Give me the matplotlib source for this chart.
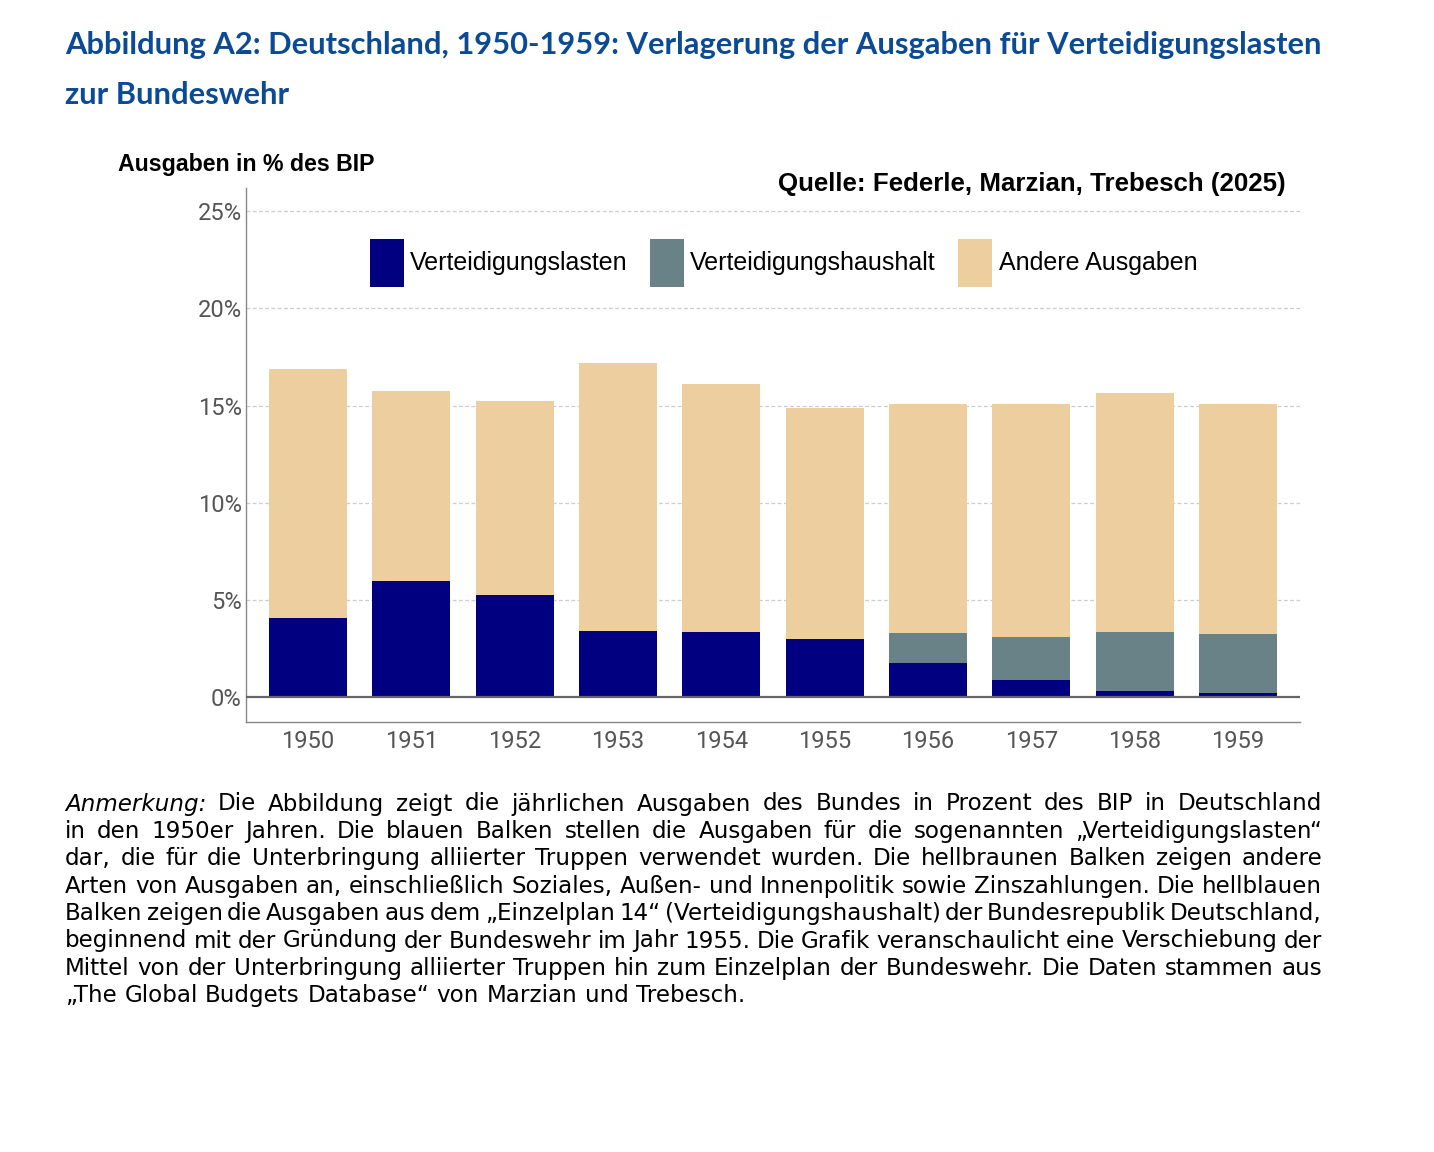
import numpy as np
import matplotlib
matplotlib.use("Agg")
import matplotlib.pyplot as plt

# data (percent of GDP)
years = ['1950', '1951', '1952', '1953', '1954', '1955', '1956', '1957', '1958', '1959']
lasten = [4.08, 5.99, 5.23, 3.41, 3.36, 3.00, 1.77, 0.90, 0.33, 0.23]
haushalt = [0, 0, 0, 0, 0, 0, 1.51, 2.21, 3.04, 3.04]
andere = [12.78, 9.78, 10.03, 13.81, 12.77, 11.90, 11.82, 11.99, 12.30, 11.83]

col_lasten = '#000080'
col_haushalt = '#698287'
col_andere = '#EDCF9F'
title_col = '#0B4A94'

title_lines = ['Abbildung A2: Deutschland, 1950-1959: Verlagerung der Ausgaben für Verteidigungslasten',
               'zur Bundeswehr']
note_lines = [
    'Anmerkung: Die Abbildung zeigt die jährlichen Ausgaben des Bundes in Prozent des BIP in Deutschland',
    'in den 1950er Jahren.  Die blauen Balken stellen die Ausgaben für die sogenannten „Verteidigungslasten“',
    'dar, die für die Unterbringung alliierter Truppen verwendet wurden.  Die hellbraunen Balken zeigen andere',
    'Arten von Ausgaben an, einschließlich Soziales, Außen- und Innenpolitik sowie Zinszahlungen. Die hellblauen',
    'Balken zeigen die Ausgaben aus dem „Einzelplan 14“ (Verteidigungshaushalt) der Bundesrepublik Deutschland,',
    'beginnend mit der Gründung der Bundeswehr im Jahr 1955. Die Grafik veranschaulicht eine Verschiebung der',
    'Mittel von der Unterbringung alliierter Truppen hin zum Einzelplan der Bundeswehr. Die Daten stammen aus',
    '„The Global Budgets Database“ von Marzian und Trebesch.',
]

W, H = 1434, 1152
fig = plt.figure(figsize=(W / 100, H / 100), dpi=100)
ax = fig.add_axes([246 / W, 1 - 722 / H, (1300 - 246) / W, (722 - 188) / H])

x = np.arange(len(years))
bw = 0.755
lasten = np.array(lasten)
haushalt = np.array(haushalt)
andere = np.array(andere)
ax.bar(x, lasten, bw, color=col_lasten, label='Verteidigungslasten', zorder=3)
ax.bar(x, haushalt, bw, bottom=lasten, color=col_haushalt, label='Verteidigungshaushalt', zorder=3)
ax.bar(x, andere, bw, bottom=lasten + haushalt, color=col_andere, label='Andere Ausgaben', zorder=3)

ax.set_xlim(-0.6, len(years) - 0.4)
ax.set_ylim(-1.28, 26.2)
ax.set_yticks([0, 5, 10, 15, 20, 25])
ax.set_yticklabels(['0%', '5%', '10%', '15%', '20%', '25%'])
ax.set_xticks(x)
ax.set_xticklabels(years)
ax.tick_params(axis='both', length=0, labelsize=17, labelcolor='#555555')
ax.tick_params(axis='y', pad=3)
ax.tick_params(axis='x', pad=6)
for lab in ax.get_xticklabels() + ax.get_yticklabels():
    lab.set_family('Roboto')

for v in [5, 10, 15, 20, 25]:
    ax.axhline(v, color='#cccccc', lw=0.9, ls=(0, (3, 2)), zorder=1)
ax.axhline(0, color='#666666', lw=1.6, zorder=4)

for s in ['top', 'right']:
    ax.spines[s].set_visible(False)
for s in ['left', 'bottom']:
    ax.spines[s].set_color('#888888')
    ax.spines[s].set_linewidth(1.0)

ax.legend(loc='center', bbox_to_anchor=(0.51, 0.86), ncol=3, frameon=False,
          prop={'family': 'Liberation Sans', 'size': 18},
          handlelength=1.36, handleheight=2.56, handletextpad=0.25, columnspacing=0.9)

fig.text(118 / W, 1 - 165 / H, 'Ausgaben in % des BIP', family='Liberation Sans',
         weight='bold', size=16.7, va='center', ha='left')
fig.text(1286 / W, 1 - 184 / H, 'Quelle: Federle, Marzian, Trebesch (2025)', family='Liberation Sans',
         weight='bold', size=18.6, va='center', ha='right')

# title
fig.text(65 / W, 1 - 45 / H, title_lines[0], family='Lato', weight='bold', size=22.2,
         color=title_col, va='center', ha='left')
fig.text(65 / W, 1 - 95 / H, title_lines[1], family='Lato', weight='bold', size=22.2,
         color=title_col, va='center', ha='left')

# justified note text
fig.canvas.draw()
r = fig.canvas.get_renderer()
x0, x1 = 65, 1322
y0, dy = 804, 27.4
for i, line in enumerate(note_lines):
    words = line.split()
    texts = []
    for w in words:
        style = 'italic' if w == 'Anmerkung:' else 'normal'
        texts.append(fig.text(0, 1 - (y0 + i * dy) / H, w, family='DejaVu Sans', size=16.6,
                              style=style, va='center', ha='left'))
    widths = [t.get_window_extent(r).width for t in texts]
    if i < len(note_lines) - 1:
        gap = (x1 - x0 - sum(widths)) / (len(words) - 1)
    else:
        gap = 7.5
    xp = x0
    for t, w in zip(texts, widths):
        t.set_x(xp / W)
        xp += w + gap

fig.savefig('out.png', dpi=100)
